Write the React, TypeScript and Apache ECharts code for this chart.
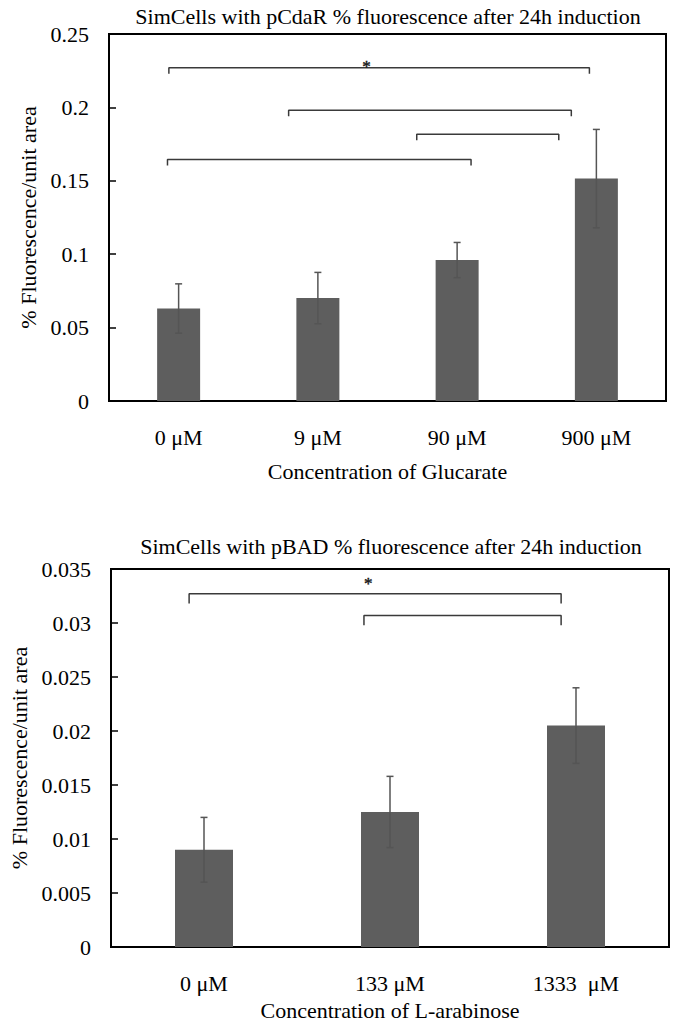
import React, { useEffect, useRef } from "react";
import * as echarts from "echarts";

// ---------- Data ----------
const topTitle = "SimCells with pCdaR % fluorescence after 24h induction";
const topCategories = ["0 μM", "9 μM", "90 μM", "900 μM"];
const topValues = [0.063, 0.0701, 0.096, 0.1515];
const topErrors = [0.0168, 0.0175, 0.012, 0.0335];
const topYTicks = { min: 0, max: 0.25, interval: 0.05 };
const topXName = "Concentration of Glucarate";
// significance brackets: [from (category units), to, height]
const topBrackets = [
  [-0.07, 2.95, 0.227],
  [0.79, 2.82, 0.198],
  [1.71, 2.73, 0.1817],
  [-0.08, 2.1, 0.1645],
];
const topStars = [[1.35, 0.2302]];

const botTitle = "SimCells with pBAD % fluorescence after 24h induction";
const botCategories = ["0 μM", "133 μM", "1333  μM"];
const botValues = [0.009, 0.0125, 0.0205];
const botErrors = [0.003, 0.0033, 0.0035];
const botYTicks = { min: 0, max: 0.035, interval: 0.005 };
const botXName = "Concentration of L-arabinose";
const botBrackets = [
  [-0.08, 1.92, 0.0327],
  [0.86, 1.92, 0.0307],
];
const botStars = [[0.883, 0.0339]];

const yName = "% Fluorescence/unit area";

// ---------- Styles ----------
const FONT = "'Liberation Serif', 'Times New Roman', 'DejaVu Serif', serif";
const BAR_COLOR = "#5e5e5e";
const ERR_COLOR = "#555555";
const BRACKET_COLOR = "#3a3a3a";

function fmt(v: number) {
  return String(parseFloat(v.toFixed(4)));
}

export default function App() {
  const ref = useRef<HTMLDivElement>(null);
  useEffect(() => {
    if (!ref.current) return;
    const chart = echarts.init(ref.current, undefined, { renderer: "svg" });

    const errorSeries = (xi: number, yi: number, vals: number[], errs: number[]) => ({
      type: "custom",
      xAxisIndex: xi,
      yAxisIndex: yi,
      data: vals.map((v, i) => [i, v, errs[i]]),
      encode: { x: 0, y: 1 },
      z: 5,
      renderItem: (params: any, api: any) => {
        const i = api.value(0);
        const v = api.value(1);
        const e = api.value(2);
        const hi = api.coord([i, v + e]);
        const lo = api.coord([i, v - e]);
        const cap = 3.5;
        const style = { stroke: ERR_COLOR, lineWidth: 1.5 };
        return {
          type: "group",
          children: [
            { type: "line", shape: { x1: hi[0], y1: hi[1], x2: lo[0], y2: lo[1] }, style },
            { type: "line", shape: { x1: hi[0] - cap, y1: hi[1], x2: hi[0] + cap, y2: hi[1] }, style },
            { type: "line", shape: { x1: lo[0] - cap, y1: lo[1], x2: lo[0] + cap, y2: lo[1] }, style },
          ],
        };
      },
    });

    const bracketSeries = (xi: number, yi: number, list: number[][], drop: number) =>
      list.map((b) => ({
        type: "line",
        xAxisIndex: xi,
        yAxisIndex: yi,
        symbol: "none",
        silent: true,
        z: 6,
        lineStyle: { color: BRACKET_COLOR, width: 1.5 },
        data: [
          [b[0], b[2] - drop],
          [b[0], b[2]],
          [b[1], b[2]],
          [b[1], b[2] - drop],
        ],
      }));

    const starSeries = (xi: number, yi: number, list: number[][]) => ({
      type: "custom",
      xAxisIndex: xi,
      yAxisIndex: yi,
      data: list,
      encode: { x: 0, y: 1 },
      z: 7,
      itemStyle: { color: "#000" },
      renderItem: (params: any, api: any) => {
        const p = api.coord([api.value(0), api.value(1)]);
        return {
          type: "text",
          x: p[0],
          y: p[1] + 3,
          style: {
            text: "*",
            fontSize: 17,
            fontFamily: FONT,
            fill: "#111",
            stroke: "#111",
            lineWidth: 0.4,
            align: "center",
            verticalAlign: "middle",
          },
        };
      },
    });

    const catAxis = (gi: number, cats: string[], name: string, nameGap: number) => ({
      type: "category",
      gridIndex: gi,
      data: cats,
      axisTick: { show: false },
      axisLine: { show: true, onZero: false, lineStyle: { color: "#000", width: 2 } },
      axisLabel: { color: "#000", fontSize: 22, fontFamily: FONT, margin: 25 },
      name,
      nameLocation: "middle",
      nameGap,
      nameTextStyle: { color: "#000", fontSize: 22, fontFamily: FONT },
    });

    const hiddenValX = (gi: number, n: number) => ({
      type: "value",
      gridIndex: gi,
      min: -0.5,
      max: n - 0.5,
      show: false,
      position: "top",
      axisLine: { onZero: false },
    });

    const valAxis = (gi: number, t: any, nameGap: number) => ({
      type: "value",
      gridIndex: gi,
      position: "left",
      min: t.min,
      max: t.max,
      interval: t.interval,
      splitLine: { show: false },
      axisLine: { show: true, onZero: false, lineStyle: { color: "#000", width: 2 } },
      axisTick: { show: true, inside: true, length: 7, lineStyle: { color: "#000", width: 1.5 } },
      axisLabel: { color: "#000", fontSize: 22, fontFamily: FONT, margin: 20, formatter: fmt },
      name: yName,
      nameLocation: "middle",
      nameGap,
      nameTextStyle: { color: "#000", fontSize: 22, fontFamily: FONT },
    });

    chart.setOption({
      animation: false,
      backgroundColor: "#fff",
      textStyle: { fontFamily: FONT },
      title: [
        {
          text: topTitle,
          left: 383,
          textAlign: "center",
          top: 0,
          textStyle: { fontFamily: FONT, fontSize: 22, fontWeight: "normal", color: "#000" },
        },
        {
          text: botTitle,
          left: 386,
          textAlign: "center",
          top: 530,
          textStyle: { fontFamily: FONT, fontSize: 22, fontWeight: "normal", color: "#000" },
        },
      ],
      grid: [
        { left: 109, top: 34, width: 557, height: 367, show: true, borderColor: "#000", borderWidth: 2, backgroundColor: "transparent" },
        { left: 107, top: 569, width: 562, height: 378, show: true, borderColor: "#000", borderWidth: 2, backgroundColor: "transparent" },
      ],
      xAxis: [
        catAxis(0, topCategories, topXName, 59),
        hiddenValX(0, topCategories.length),
        catAxis(1, botCategories, botXName, 52),
        hiddenValX(1, botCategories.length),
      ],
      yAxis: [valAxis(0, topYTicks, 66), valAxis(1, botYTicks, 81)],
      series: [
        {
          type: "bar",
          xAxisIndex: 0,
          yAxisIndex: 0,
          data: topValues,
          barWidth: 43,
          itemStyle: { color: BAR_COLOR },
        },
        errorSeries(0, 0, topValues, topErrors),
        ...bracketSeries(1, 0, topBrackets, 0.0041),
        starSeries(1, 0, topStars),
        {
          type: "bar",
          xAxisIndex: 2,
          yAxisIndex: 1,
          data: botValues,
          barWidth: 58,
          itemStyle: { color: BAR_COLOR },
        },
        errorSeries(2, 1, botValues, botErrors),
        ...bracketSeries(3, 1, botBrackets, 0.0009),
        starSeries(3, 1, botStars),
      ],
    });
    return () => chart.dispose();
  }, []);
  return (
    <div
      ref={ref}
      style={{ position: "absolute", left: 0, top: 0, width: 675, height: 1023, background: "#fff" }}
    />
  );
}
